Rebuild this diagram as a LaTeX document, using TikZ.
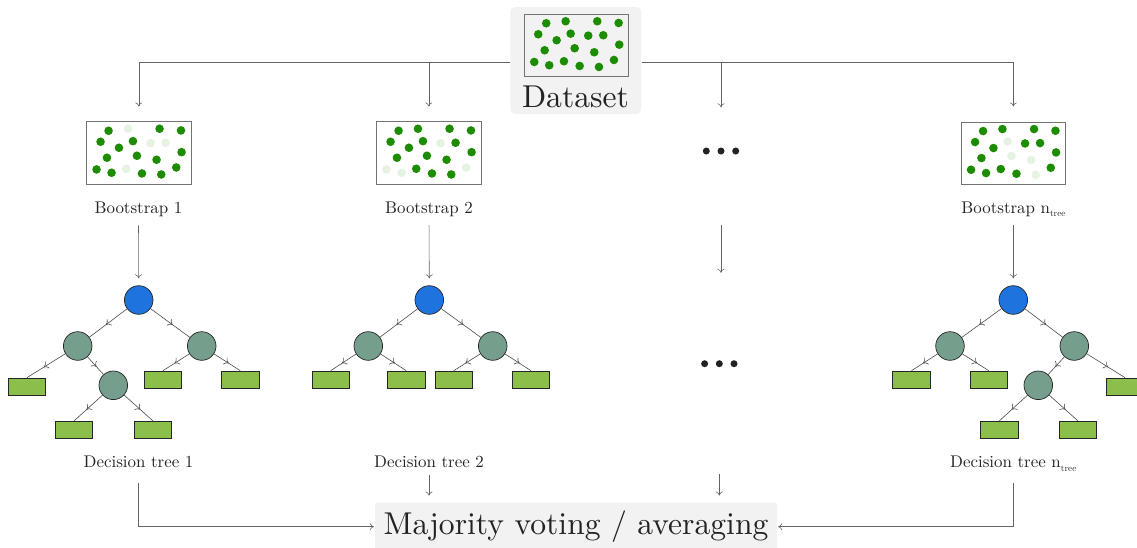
\documentclass[tikz,border=0pt]{standalone}
\usetikzlibrary{decorations.markings,arrows.meta,calc}
\definecolor{dotg}{RGB}{30,140,0}
\definecolor{dotl}{RGB}{230,242,226}
\definecolor{rootb}{RGB}{30,116,220}
\definecolor{innerg}{RGB}{118,158,140}
\definecolor{leafg}{RGB}{139,190,74}
\definecolor{boxgray}{RGB}{242,242,242}
\definecolor{linegray}{RGB}{100,100,100}
\definecolor{edgegray}{RGB}{75,75,75}
\definecolor{dotdark}{RGB}{34,34,34}
\definecolor{txtcol}{RGB}{35,35,35}
\font\bigfnt="[lmroman10-regular]:+tlig;" at 31.6pt
\font\midfnt="[lmroman10-regular]:+tlig;" at 16.9pt
\font\subfnt="[lmroman10-regular]:+tlig;" at 9.3pt
\newcommand\ntree{n\raisebox{-3.5pt}{\subfnt tree}}
\makeatletter
\newcommand\sampledots[2]{%
  \foreach \i/\px/\py in {1/22.3/9.3,2/41.7/7.3,3/73.3/7.3,4/94.7/9,5/14.3/20.3,
    6/32.7/26.3,7/46.7/19.7,8/64.3/21.7,9/79.3/21.3,10/95.3/30.7,11/20.7/36.3,
    12/50.7/34.3,13/70.3/38.3,14/10.3/48,15/25.3/51.3,16/40/47.3,17/55.7/52,
    18/75/53,19/90/46}{%
    \edef\tmpin{\noexpand\in@{,\i,}{,#2,}}\tmpin
    \ifin@\def\dc{dotl}\else\def\dc{dotg}\fi
    \fill[\dc] ($(#1.north west)+(\px,\py)$) circle[radius=4.3pt];
  }}
\makeatother
\tikzset{
  conn/.style={draw=linegray, line width=0.6pt, -{To[length=4pt,width=7pt]}},
  edge/.style={draw=edgegray, line width=0.6pt, postaction={decorate},
    decoration={markings, mark=at position 0.56 with {\arrow{To[length=4.5pt,width=8pt]}}}},
  rootn/.style={circle, draw=black!85, line width=0.7pt, fill=rootb, minimum size=28.6pt, inner sep=0},
  innn/.style={circle, draw=black!85, line width=0.7pt, fill=innerg, minimum size=28.6pt, inner sep=0},
  leafn/.style={rectangle, draw=black!85, line width=0.7pt, fill=leafg, minimum width=37.5pt, minimum height=17pt, inner sep=0},
  sbox/.style={rectangle, draw=black!55, line width=0.6pt, minimum width=104.5pt, minimum height=62.5pt, inner sep=0},
  lbl/.style={anchor=base, inner sep=0, font=\midfnt, text=txtcol},
  dotsn/.style={minimum width=40pt, minimum height=8pt, inner sep=0},
}
\begin{document}
\begin{tikzpicture}[x=1pt,y=-1pt]
\useasboundingbox (0,0) rectangle (1137,547);

% dataset
\node[fill=boxgray, rounded corners=5pt, minimum width=131pt, minimum height=107pt, inner sep=0] (data) at (575.8,60.5) {};
\node[sbox] (dsbox) at (576.5,45.5) {};
\sampledots{dsbox}{0}
\node[anchor=base, inner sep=0, font=\bigfnt, text=txtcol] (dstxt) at (575.5,107.3) {Dataset};

% bootstrap samples
\node[sbox] (b1) at (138.8,153) {};
\sampledots{b1}{2,8,9,16}
\node[sbox] (b2) at (428.8,153) {};
\sampledots{b2}{8,14,15,19}
\node[sbox] (bn) at (1013.3,153.3) {};
\sampledots{bn}{7,12,13,18}
\node[dotsn] (dotsA) at (721,151) {};
\foreach \dx in {-14.7,0,14.7} \fill[dotdark] ($(dotsA)+(\dx,0)$) circle[radius=3.5pt];

\node[lbl] (lb1) at (138.5,213) {Bootstrap 1};
\node[lbl] (lb2) at (429,213) {Bootstrap 2};
\node[lbl] (lbn) at (1013.5,213) {Bootstrap \ntree};

% top connectors
\draw[conn, shorten >=15pt] ([yshift=-1.5pt]data.west) -| (b1.north);
\draw[conn, shorten >=15pt] ([yshift=-1.5pt]data.west) -| (b2.north);
\draw[conn, shorten >=39.5pt] ([yshift=-1.5pt]data.east) -| (dotsA.north);
\draw[conn, shorten >=15.3pt] ([yshift=-1.5pt]data.east) -| (bn.north);

% tree 1
\begin{scope}[shift={(138.7,300)}]
\node[rootn] (t1r) at (0,0) {};
\node[innn] (t1a) at (-61,46) {};
\node[innn] (t1b) at (63,46) {};
\node[innn] (t1c) at (-25.4,85.3) {};
\node[leafn] (t1l1) at (-111.7,86.5) {};
\node[leafn] (t1l2) at (24.3,79.5) {};
\node[leafn] (t1l3) at (101.6,79.5) {};
\node[leafn] (t1l4) at (-64.7,129.8) {};
\node[leafn] (t1l5) at (14.3,129.8) {};
\end{scope}
\draw[edge] (t1r) -- (t1a);
\draw[edge] (t1r) -- (t1b);
\draw[edge] (t1a) -- (t1l1.north);
\draw[edge] (t1a) -- (t1c);
\draw[edge] (t1b) -- (t1l2.north);
\draw[edge] (t1b) -- (t1l3.north);
\draw[edge] (t1c) -- (t1l4.north);
\draw[edge] (t1c) -- (t1l5.north);

% tree 2
\begin{scope}[shift={(429.3,300)}]
\node[rootn] (t2r) at (0,0) {};
\node[innn] (t2a) at (-61,46) {};
\node[innn] (t2b) at (63.4,46) {};
\node[leafn] (t2l1) at (-98.6,79.5) {};
\node[leafn] (t2l2) at (-23.1,79.5) {};
\node[leafn] (t2l3) at (24.5,79.5) {};
\node[leafn] (t2l4) at (101.7,79.5) {};
\end{scope}
\draw[edge] (t2r) -- (t2a);
\draw[edge] (t2r) -- (t2b);
\draw[edge] (t2a) -- (t2l1.north);
\draw[edge] (t2a) -- (t2l2.north);
\draw[edge] (t2b) -- (t2l3.north);
\draw[edge] (t2b) -- (t2l4.north);

% tree n
\begin{scope}[shift={(1013.3,300)}]
\node[rootn] (tnr) at (0,0) {};
\node[innn] (tna) at (-63.3,46) {};
\node[innn] (tnb) at (61,46) {};
\node[innn] (tnc) at (25,85.3) {};
\node[leafn] (tnl1) at (-101.8,79.5) {};
\node[leafn] (tnl2) at (-24.6,79.5) {};
\node[leafn] (tnl3) at (111.7,86.5) {};
\node[leafn] (tnl4) at (-14.1,129.8) {};
\node[leafn] (tnl5) at (64.7,129.8) {};
\end{scope}
\draw[edge] (tnr) -- (tna);
\draw[edge] (tnr) -- (tnb);
\draw[edge] (tna) -- (tnl1.north);
\draw[edge] (tna) -- (tnl2.north);
\draw[edge] (tnb) -- (tnc);
\draw[edge] (tnb) -- (tnl3.north);
\draw[edge] (tnc) -- (tnl4.north);
\draw[edge] (tnc) -- (tnl5.north);

\node[dotsn] (dotsB) at (719.3,363.7) {};
\foreach \dx in {-14.7,0,14.7} \fill[dotdark] ($(dotsB)+(\dx,0)$) circle[radius=3.5pt];

% bootstrap -> trees
\draw[conn, shorten <=9pt, shorten >=7pt] (lb1.south) -- (t1r.north);
\draw[conn, shorten <=9pt, shorten >=7pt] (lb2.south) -- (t2r.north);
\draw[conn, shorten <=9pt, shorten >=7pt] (lb1.south -| tnr.north) -- (tnr.north);
\draw[conn, shorten <=70pt, shorten >=86.7pt] (dotsA.south) -- (dotsA.south |- dotsB.north);

% labels
\node[lbl] (lt1) at (138.5,467.5) {Decision tree 1};
\node[lbl] (lt2) at (429,467.5) {Decision tree 2};
\node[lbl] (ltn) at (1013.3,467.5) {Decision tree \ntree};

% aggregation
\node[fill=boxgray, rounded corners=2pt, minimum width=402pt, minimum height=48pt, inner sep=0,
  text height=21.6pt, text depth=7pt, font=\bigfnt, text=txtcol] (vote) at (576,526.7) {Majority voting / averaging};
\draw[conn, shorten <=15pt, shorten >=1pt] (lt1.south) |- (vote.west);
\draw[conn, shorten <=15pt, shorten >=1pt] (lt1.south -| tnr.south) |- (vote.east);
\draw[conn, shorten <=7pt, shorten >=7pt] (lt2.south) -- (lt2.south |- vote.north);
\draw[conn, shorten <=106pt, shorten >=7pt] (dotsB.south) -- (dotsB.south |- vote.north);
\end{tikzpicture}
\end{document}
